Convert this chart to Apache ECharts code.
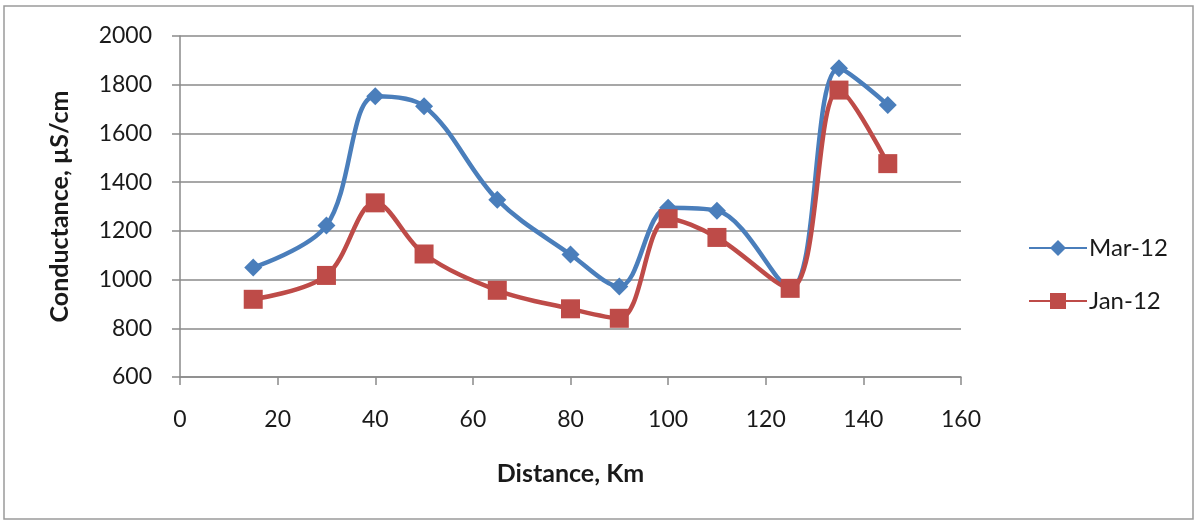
<!DOCTYPE html>
<html lang="en">
<head>
    <meta http-equiv="Content-Type" content="text/html; charset=UTF-8">
    <title>Conductance vs Distance</title>
    <script src="https://cdn.jsdelivr.net/npm/echarts@6/dist/echarts.min.js"></script>
    <style>
    html, body {
        margin: 0;
        padding: 0;
        background: #fff;
    }
    #chart {
        width: 1198px;
        height: 525px;
    }
    </style>
</head>
<body>
    <div id="chart"></div>
    <script type="text/javascript">
    // distance (km)
    var distance = [15, 30, 40, 50, 65, 80, 90, 100, 110, 125, 135, 145];
    // conductance, uS/cm
    var mar12 = [1050, 1222, 1753, 1712, 1328, 1103, 972, 1295, 1283, 965, 1868, 1717];
    var jan12 = [919, 1017, 1315, 1105, 956, 880, 841, 1250, 1173, 964, 1778, 1476];

    var seriesNames = ['Mar-12', 'Jan-12'];
    var colors = ['#4A7EBB', '#BE4B48'];

    var font = 'Lato, "Open Sans", sans-serif';

    var pairs = function(xs, ys) {
        var out = [];
        for (var i = 0; i < xs.length; i++) {
            out.push([xs[i], ys[i]]);
        }
        return out;
    };

    var chart = echarts.init(document.getElementById('chart'));

    var option = {
        animation: false,
        backgroundColor: '#fff',
        color: colors,
        textStyle: { fontFamily: font },
        graphic: [{
            type: 'rect',
            shape: { x: 4, y: 6, width: 1189, height: 513 },
            style: { fill: 'none', stroke: '#9a9a9a', lineWidth: 1.5 }
        }],
        grid: {
            left: 180,
            right: 237,
            top: 36,
            bottom: 148
        },
        legend: {
            orient: 'vertical',
            left: 1023,
            top: 231,
            itemWidth: 58,
            itemHeight: 20,
            itemGap: 29,
            textStyle: { fontFamily: font, fontSize: 24, color: '#1a1a1a', padding: [0, 0, 0, -3] },
            data: seriesNames
        },
        xAxis: {
            type: 'value',
            min: 0,
            max: 160,
            interval: 20,
            name: 'Distance, Km',
            nameLocation: 'middle',
            nameGap: 84,
            nameTextStyle: { fontFamily: font, fontSize: 25, fontWeight: 'bold', color: '#1a1a1a' },
            axisLine: { show: true, lineStyle: { color: '#8a8a8a', width: 1.5 } },
            axisTick: { show: true, inside: false, length: 8, lineStyle: { color: '#8a8a8a', width: 1.5 } },
            axisLabel: { margin: 31, fontSize: 23, color: '#1a1a1a', fontFamily: font },
            splitLine: { show: false }
        },
        yAxis: {
            type: 'value',
            min: 600,
            max: 2000,
            interval: 200,
            name: 'Conductance, µS/cm',
            nameLocation: 'middle',
            nameGap: 108,
            nameRotate: 90,
            nameTextStyle: { fontFamily: font, fontSize: 25, fontWeight: 'bold', color: '#1a1a1a' },
            axisLine: { show: true, lineStyle: { color: '#8a8a8a', width: 1.5 } },
            axisTick: { show: true, inside: false, length: 8, lineStyle: { color: '#8a8a8a', width: 1.5 } },
            axisLabel: {
                margin: 28,
                fontSize: 23,
                color: '#1a1a1a',
                fontFamily: font,
                formatter: function(v) { return String(v); }
            },
            splitLine: { show: true, lineStyle: { color: '#8a8a8a', width: 1.5 } }
        },
        series: [{
            name: seriesNames[0],
            type: 'line',
            smooth: 0.35,
            symbol: 'diamond',
            symbolSize: 18,
            lineStyle: { width: 4.5, color: colors[0] },
            itemStyle: { color: colors[0] },
            data: pairs(distance, mar12)
        }, {
            name: seriesNames[1],
            type: 'line',
            smooth: 0.35,
            symbol: 'rect',
            symbolSize: 19,
            lineStyle: { width: 4.5, color: colors[1] },
            itemStyle: { color: colors[1] },
            data: pairs(distance, jan12)
        }]
    };

    chart.setOption(option);
    </script>
</body>
</html>
